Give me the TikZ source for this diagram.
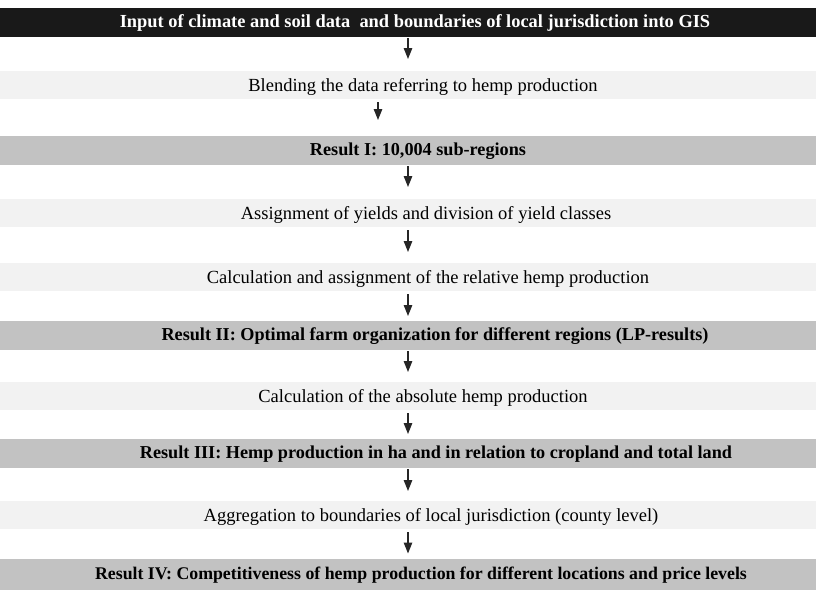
\documentclass[tikz,border=0pt]{standalone}
\usepackage{fontspec}
\setmainfont{Liberation Serif}
\usetikzlibrary{arrows.meta}
\begin{document}
\begin{tikzpicture}[x=1pt,y=-1pt,
  topband/.style={rectangle, fill=black!90, minimum width=816pt, minimum height=29pt, inner sep=0pt, outer sep=0pt},
  resband/.style={rectangle, fill=black!24, minimum width=816pt, minimum height=29pt, inner sep=0pt, outer sep=0pt},
  plainband/.style={rectangle, fill=black!5, minimum width=816pt, minimum height=28pt, inner sep=0pt, outer sep=0pt},
  plaintxt/.style={font=\fontsize{18.5}{20}\selectfont, inner sep=0pt},
  restxt/.style={font=\fontsize{18.2}{20}\selectfont\bfseries, inner sep=0pt},
  toptxt/.style={font=\fontsize{18.4}{20}\selectfont\bfseries, text=white, inner sep=0pt},
  arr/.style={-{Triangle[width=8.5pt,length=11pt]}, line width=1.2pt, black!85}
]
\useasboundingbox (0,0) rectangle (816,589);
\fill[white] (0,0) rectangle (816,589);

\node[topband] (top) at (408,22.5) {};
\node[toptxt] (toptext) at (415,22.5) {Input of climate and soil data\ \ and boundaries of local jurisdiction into GIS};

\node[plainband] (b1) at (408,85) {};
\node[plaintxt] (t1) at (423,87) {Blending the data referring to hemp production};

\node[resband] (r1) at (408,150.5) {};
\node[restxt] (rt1) at (418,151) {Result I: 10,004 sub-regions};

\node[plainband] (b2) at (408,213) {};
\node[plaintxt] (t2) at (426,215) {Assignment of yields and division of yield classes};

\node[plainband] (b3) at (408,277) {};
\node[plaintxt] (t3) at (428,279) {Calculation and assignment of the relative hemp production};

\node[resband] (r2) at (408,335.5) {};
\node[restxt] (rt2) at (435,336) {Result II: Optimal farm organization for different regions (LP-results)};

\node[plainband] (b4) at (408,396) {};
\node[plaintxt] (t4) at (423,398) {Calculation of the absolute hemp production};

\node[resband] (r3) at (408,453.5) {};
\node[restxt] (rt3) at (436,454) {Result III: Hemp production in ha and in relation to cropland and total land};

\node[plainband] (b5) at (408,515) {};
\node[plaintxt] (t5) at (431,517) {Aggregation to boundaries of local jurisdiction (county level)};

\node[resband, minimum height=31pt] (r4) at (408,574) {};
\node[restxt, font=\fontsize{17.8}{20}\selectfont\bfseries] (rt4) at (421,575) {Result IV: Competitiveness of hemp production for different locations and price levels};

\draw[arr, shorten >=12pt, shorten <=1pt] (top.south) -- (b1.north);
\draw[arr, shorten >=16pt, shorten <=3pt] ([xshift=-30pt]b1.south) -- ([xshift=-30pt]r1.north);
\draw[arr, shorten >=12pt, shorten <=1pt] (r1.south) -- (b2.north);
\draw[arr, shorten >=11pt, shorten <=3pt] (b2.south) -- (b3.north);
\draw[arr, shorten >=5pt, shorten <=3pt] (b3.south) -- (r2.north);
\draw[arr, shorten >=10pt, shorten <=1pt] (r2.south) -- (b4.north);
\draw[arr, shorten >=5pt, shorten <=3pt] (b4.south) -- (r3.north);
\draw[arr, shorten >=10pt, shorten <=1pt] (r3.south) -- (b5.north);
\draw[arr, shorten >=5pt, shorten <=3pt] (b5.south) -- (r4.north);
\end{tikzpicture}
\end{document}
